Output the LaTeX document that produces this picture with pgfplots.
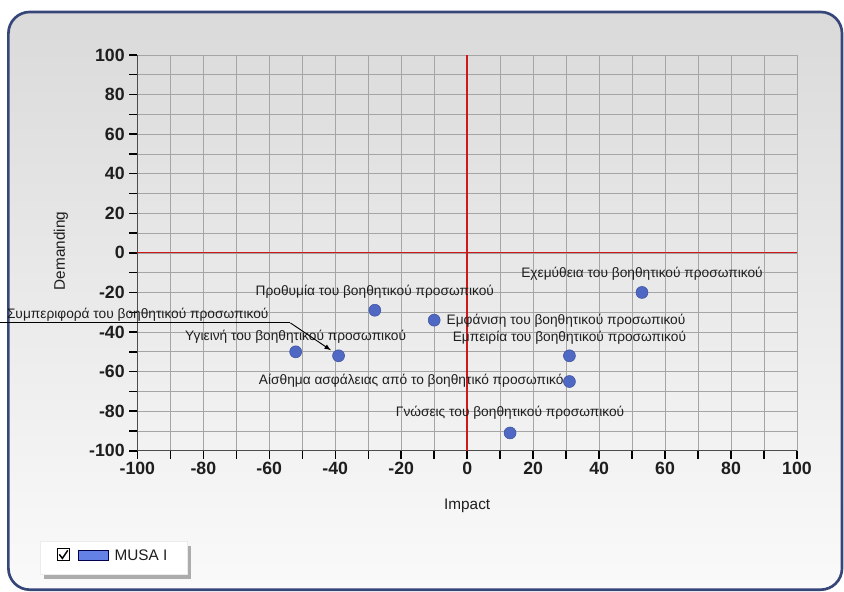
\documentclass[border=0pt]{standalone}
\usepackage{fontspec}
\setmainfont{Liberation Sans}
\usepackage{pgfplots}
\pgfplotsset{compat=1.18}
\definecolor{frameblue}{RGB}{55,70,120}
\definecolor{pointblue}{RGB}{78,104,196}
\definecolor{legendblue}{RGB}{100,130,230}
\definecolor{gridgray}{RGB}{165,165,165}
\definecolor{zerored}{RGB}{205,25,25}
\definecolor{paneltop}{RGB}{218,218,218}
\definecolor{panelbottom}{RGB}{250,250,250}
\definecolor{txt}{RGB}{30,30,30}
\begin{document}
\begin{tikzpicture}
\path[fill=white] (0pt,0pt) rectangle (633pt,444pt);
\draw[frameblue, line width=2pt, rounded corners=16pt, top color=paneltop, bottom color=panelbottom] (6pt,1.5pt) rectangle (631.5pt,435pt);
\begin{axis}[
  at={(102.75pt,105.75pt)}, anchor=south west,
  scale only axis, width=495pt, height=297pt,
  xmin=-100, xmax=100, ymin=-100, ymax=100,
  xtick={-100,-80,...,100}, minor xtick={-90,-70,...,90},
  ytick={-100,-80,...,100}, minor ytick={-90,-70,...,90},
  grid=both,
  major grid style={gridgray, line width=0.5pt},
  minor grid style={gridgray, line width=0.5pt},
  axis lines*=left,
  axis line style={gray!60!black, line width=0.8pt},
  tick align=outside,
  major tick length=6pt, minor tick length=6pt,
  tick style={black, line width=1.1pt},
  /pgf/number format/assume math mode=true,
  ticklabel style={font=\bfseries\fontsize{13.3}{14}\selectfont, text=txt},
  xticklabel style={yshift=1pt},
  clip=false,
  xlabel={Impact}, ylabel={Demanding},
  label style={font=\fontsize{11.5}{13}\selectfont, text=txt},
  xlabel style={at={(axis description cs:0.5,-0.139)}, anchor=center},
  ylabel style={at={(axis description cs:-0.116,0.505)}, anchor=center},
]
\addplot[zerored, line width=1.2pt, forget plot] coordinates {(0,-100) (0,100)};
\addplot[zerored, line width=0.9pt, forget plot] coordinates {(-100,0) (100,0)};
\addplot[only marks, mark=*, mark size=4.5pt, mark options={draw=pointblue!80!black, fill=pointblue}] coordinates {
(53,-20) (-28,-29) (-10,-34) (-52,-50) (-39,-52) (31,-52) (31,-65) (13,-91)
};
\begin{scope}[every node/.style={font=\fontsize{10.3}{12}\selectfont, text=txt, inner sep=1pt}]
\node[anchor=center] at (axis cs:53,-10.6) {Εχεμύθεια του βοηθητικού προσωπικού};
\node[anchor=center] at (axis cs:-28,-19.7) {Προθυμία του βοηθητικού προσωπικού};
\node[anchor=west] at (axis cs:-6.7,-34.3) {Εμφάνιση του βοηθητικού προσωπικού};
\node[anchor=center] at (axis cs:31,-43) {Εμπειρία του βοηθητικού προσωπικού};
\node[anchor=east] at (axis cs:29.7,-64.6) {Αίσθημα ασφάλειας από το βοηθητικό προσωπικό};
\node[anchor=center] at (axis cs:13,-80.8) {Γνώσεις του βοηθητικού προσωπικού};
\node[anchor=center] at (axis cs:-52,-42.4) {Υγιεινή του βοηθητικού προσωπικού};
\node[anchor=south west] at (axis cs:-140,-35.2) {Συμπεριφορά του βοηθητικού προσωπικού};
\end{scope}
\draw[black, line width=0.7pt] (axis cs:-141.5,-35.4) -- (axis cs:-53.6,-35.4);
\draw[black, line width=0.7pt, -latex] (axis cs:-53.6,-35.4) -- (axis cs:-41.3,-49.2);
\end{axis}
% legend
\fill[gray!65] (33pt,9.75pt) rectangle (143.25pt,34.5pt);
\draw[white!85!gray, fill=white] (30pt,12.75pt) rectangle (140.25pt,37.5pt);
\draw[black, fill=white, line width=0.6pt] (42.75pt,23.25pt) rectangle (51.75pt,32.25pt);
\draw[black, line width=1.1pt] (44.2pt,28pt) -- (46.5pt,25pt) -- (50.5pt,31pt);
\draw[black!70!blue, fill=legendblue, line width=0.5pt] (58.5pt,23.25pt) rectangle (81pt,30.75pt);
\node[anchor=west, font=\fontsize{11.5}{13}\selectfont, text=txt, inner sep=0pt] at (85.5pt,27.5pt) {MUSA I};
\end{tikzpicture}
\end{document}
